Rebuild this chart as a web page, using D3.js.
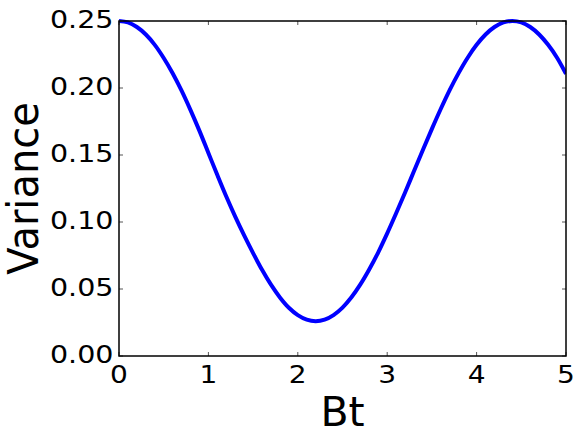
<!DOCTYPE html>
<html>
<head>
<meta charset="utf-8">
<script src="https://cdn.jsdelivr.net/npm/d3@7"></script>
<style>
  html, body { margin: 0; padding: 0; background: #fff; }
  svg { display: block; }
  text { font-family: "DejaVu Sans", sans-serif; fill: #000; }
</style>
</head>
<body>
<svg id="chart" width="579" height="441"></svg>
<script>
// Data
const bt = [0.0,0.1,0.2,0.3,0.4,0.5,0.6,0.7,0.8,0.9,1.0,1.1,1.2,1.3,1.4,1.5,1.6,1.7,1.8,1.9,2.0,
            2.1,2.2,2.3,2.4,2.5,2.6,2.7,2.8,2.9,3.0,3.1,3.2,3.3,3.4,3.5,3.6,3.7,3.8,3.9,4.0,
            4.1,4.2,4.3,4.4,4.5,4.6,4.7,4.8,4.9,5.0];
const variance = [0.2500,0.2489,0.2455,0.2399,0.2322,0.2224,0.2110,0.1980,0.1835,0.1680,0.1515,
                  0.1350,0.1190,0.1040,0.0900,0.0768,0.0643,0.0532,0.0437,0.0360,0.0305,
                  0.0271,0.0260,0.0271,0.0305,0.0361,0.0438,0.0534,0.0647,0.0774,0.0915,
                  0.1065,0.1220,0.1380,0.1539,0.1695,0.1845,0.1986,0.2113,0.2226,0.2322,
                  0.2399,0.2455,0.2489,0.2500,0.2489,0.2455,0.2399,0.2322,0.2226,0.2105];
const xTicks = [0,1,2,3,4,5];
const yTicks = [0.00,0.05,0.10,0.15,0.20,0.25];
const xLabel = "Bt";
const yLabel = "Variance";

const svg = d3.select("#chart");
const mLeft = 119, mRight = 566, mTop = 21, mBottom = 356;
const x = d3.scaleLinear().domain([0,5]).range([mLeft,mRight]);
const y = d3.scaleLinear().domain([0,0.25]).range([mBottom,mTop]);

const pts = bt.map((t,i)=>({t, v: variance[i]}));

// curve (clipped to plot)
svg.append("clipPath").attr("id","clip").append("rect")
  .attr("x", mLeft).attr("y", mTop - 3).attr("width", mRight-mLeft).attr("height", mBottom-mTop+6);

svg.append("path")
  .datum(pts)
  .attr("clip-path","url(#clip)")
  .attr("fill","none")
  .attr("stroke","#0000ff")
  .attr("stroke-width",4)
  .attr("stroke-linejoin","round")
  .attr("d", d3.line().x(d=>x(d.t)).y(d=>y(d.v)).curve(d3.curveCatmullRom));

// ticks (inward, all four sides)
const tl = 4;
const tickG = svg.append("g").attr("stroke","#555").attr("stroke-width",1);
xTicks.forEach(t=>{
  tickG.append("line").attr("x1",x(t)).attr("x2",x(t)).attr("y1",mBottom).attr("y2",mBottom-tl);
  tickG.append("line").attr("x1",x(t)).attr("x2",x(t)).attr("y1",mTop).attr("y2",mTop+tl);
});
yTicks.forEach(v=>{
  tickG.append("line").attr("x1",mLeft).attr("x2",mLeft+tl).attr("y1",y(v)).attr("y2",y(v));
  tickG.append("line").attr("x1",mRight).attr("x2",mRight-tl).attr("y1",y(v)).attr("y2",y(v));
});

// frame
svg.append("rect").attr("x",mLeft).attr("y",mTop).attr("width",mRight-mLeft).attr("height",mBottom-mTop)
  .attr("fill","none").attr("stroke","#000").attr("stroke-width",1.5);

// tick labels (glyphs slightly wider than tall, as in the reference)
svg.append("g").selectAll("text").data(xTicks).join("text")
  .attr("transform", d=>`translate(${x(d)},383) scale(1.1,1)`)
  .attr("text-anchor","middle").attr("font-size",25.5)
  .text(d=>d3.format("d")(d));

svg.append("g").selectAll("text").data(yTicks).join("text")
  .attr("transform", d=>`translate(113.5,${y(d)+6.5}) scale(1.12,1)`)
  .attr("text-anchor","end").attr("font-size",25.5)
  .text(d=>d3.format(".2f")(d));

// axis labels
svg.append("text").attr("x",(mLeft+mRight)/2).attr("y",426)
  .attr("text-anchor","middle").attr("font-size",41).text(xLabel);

svg.append("text")
  .attr("transform",`translate(38,${(mTop+mBottom)/2}) rotate(-90) scale(1,1.07)`)
  .attr("text-anchor","middle").attr("font-size",40).text(yLabel);
</script>
</body>
</html>
